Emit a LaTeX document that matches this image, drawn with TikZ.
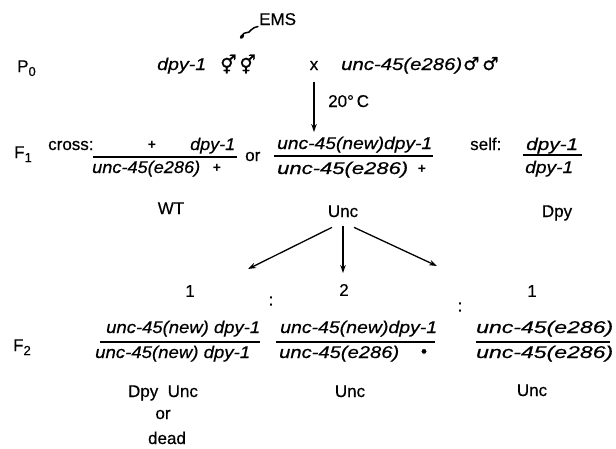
\documentclass[tikz,border=0pt]{standalone}
\usepackage{fontspec}
\setmainfont{Liberation Sans}[UprightFeatures={FakeBold=0.5},ItalicFeatures={FakeBold=0.5}]
\newfontfamily\upf{Liberation Sans}[FakeBold=0.5]
\newfontfamily\symf{DejaVu Sans}[FakeBold=1.2]
\usetikzlibrary{arrows.meta}
\newsavebox\fitbox
\newcommand\fitto[2]{\sbox\fitbox{#2}\pgfmathsetmacro\fitfac{#1/\the\wd\fitbox}\scalebox{\fitfac}[1]{\usebox\fitbox}}
\newcommand\subsc[1]{\raisebox{-4pt}{\fontsize{13}{13}\selectfont #1}}
\begin{document}
\begin{tikzpicture}[x=1pt,y=-1pt,
  txt/.style={inner sep=0pt, font=\upf\fontsize{17}{20}\selectfont},
  lbl/.style={txt, anchor=base west},
  ctr/.style={txt, anchor=base},
  bar/.style={line width=1.7pt},
  arr/.style={line width=1.3pt,-{Stealth[length=8pt,width=5.5pt]}},
  small/.style={inner sep=0pt, anchor=base, font=\fontsize{14}{14}\bfseries}]
\useasboundingbox (0,0) rectangle (616,448);

% P0 row
\node[lbl] (p0) at (17,72) {P\subsc{0}};
\node[lbl] (ems) at (259,25) {EMS};
\draw[line width=1.5pt, line cap=round] (242,36) .. controls (245,30) and (248,35) .. (251,30) .. controls (253,27) and (255,28) .. (258,26.5);
\fill[rotate around={50:(242,36.5)}] (242,36.5) ellipse (2.6pt and 1.7pt);
\node[lbl] (dpy0) at (157,70) {\fitto{49}{\normalfont\itshape dpy-1}};
\node[lbl] (herm) at (220,71) {\symf\fontsize{18}{20}\selectfont ⚥\,⚥};
\node[ctr] (cross) at (314,70) {x};
\node[lbl] (unc0) at (341,70) {\fitto{121}{\normalfont\itshape unc-45(e286)}};
\node[lbl] (males) at (463,70) {\symf\fontsize{18}{20}\selectfont ♂\,♂};
\coordinate (a0) at (314,132);
\draw[arr] ([yshift=-12pt]cross.south) -- (a0);
\node[lbl] (temp) at (328,107) {20°\,C};

% F1 row
\node[lbl] (f1) at (14,158) {F\subsc{1}};
\node[lbl] (crosslab) at (48,150) {cross:};
\node[small] (f1aplus) at (152,149) {+};
\node[lbl] (f1adpy) at (190,150) {\fitto{45}{\normalfont\itshape dpy-1}};
\draw[bar] (93,157) -- (237,157);
\node[lbl] (f1aunc) at (92,173) {\fitto{108}{\normalfont\itshape unc-45(e286)}};
\node[small] (f1aplus2) at (217,172) {+};
\node[lbl] (or1) at (245,161) {or};
\node[lbl] (f1bnum) at (277,149) {\fitto{155}{\normalfont\itshape unc-45(new)dpy-1}};
\draw[bar] (274,156) -- (433,156);
\node[lbl] (f1bden) at (277,174) {\fitto{131}{\normalfont\itshape unc-45(e286)}};
\node[small] (f1bplus) at (422,173) {+};
\node[lbl] (self) at (470,150) {self:};
\node[lbl] (f1cnum) at (526,150) {\fitto{52}{\normalfont\itshape dpy-1}};
\draw[bar] (523,155) -- (582,155);
\node[lbl] (f1cden) at (525,173) {\fitto{48}{\normalfont\itshape dpy-1}};

\node[ctr] (wt) at (171,214) {WT};
\node[ctr] (unc1) at (343,217) {Unc};
\node[ctr] (dpy1) at (557,217) {Dpy};

% arrows to F2
\coordinate (tl) at (248,269);
\coordinate (tc) at (343,273);
\coordinate (tr) at (437,266);
\draw[arr] ([xshift=-11pt,yshift=-10pt]unc1.south) -- (tl);
\draw[arr] ([yshift=-9pt]unc1.south) -- (tc);
\draw[arr] ([xshift=11pt,yshift=-10pt]unc1.south) -- (tr);

% ratios
\node[txt] (r1) at (190,291) {1};
\node[txt] (c1) at (271,301) {:};
\node[txt] (r2) at (344,290) {2};
\node[txt] (c2) at (460,307) {:};
\node[txt] (r3) at (532,291) {1};

% F2 row
\node[lbl] (f2) at (13,351) {F\subsc{2}};
\node[lbl] (f2anum) at (106,333) {\fitto{154}{\normalfont\itshape unc-45(new) dpy-1}};
\draw[bar] (100,342) -- (260,342);
\node[lbl] (f2aden) at (95,358) {\fitto{155}{\normalfont\itshape unc-45(new) dpy-1}};
\node[lbl] (f2bnum) at (280,333) {\fitto{157}{\normalfont\itshape unc-45(new)dpy-1}};
\draw[bar] (276,342) -- (435,342);
\node[lbl] (f2bden) at (279,358) {\fitto{120}{\normalfont\itshape unc-45(e286)}};
\node[ctr] (dot) at (424,357) {•};
\node[lbl] (f2cnum) at (476,333) {\fitto{137}{\normalfont\itshape unc-45(e286)}};
\draw[bar] (476,342) -- (610,342);
\node[lbl] (f2cden) at (476,358) {\fitto{137}{\normalfont\itshape unc-45(e286)}};

\node[ctr] (ph1) at (163,397) {Dpy\ \ Unc};
\node[ctr] (ph1or) at (163,419) {or};
\node[ctr] (ph1dead) at (167,444) {dead};
\node[ctr] (ph2) at (350,397) {Unc};
\node[ctr] (ph3) at (532,396) {Unc};
\end{tikzpicture}
\end{document}
